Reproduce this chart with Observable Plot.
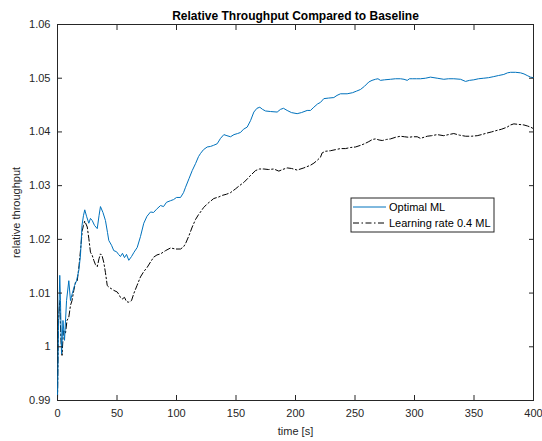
<!DOCTYPE html>
<html>
<head>
<meta charset="utf-8">
<script src="https://cdn.jsdelivr.net/npm/d3@7"></script>
<script src="https://cdn.jsdelivr.net/npm/@observablehq/plot@0.6"></script>
<style>
  body { margin: 0; background: #fff; }
  #chart svg { display: block; }
</style>
</head>
<body>
<div id="chart"></div>
<script>
// Relative throughput of two ML configurations versus the baseline, over time.
const optimalTime = [0, 0.8, 1.9, 2.5, 3.4, 4.6, 5.9, 7.6, 9.5, 10.9, 12.4, 14.3, 16.0, 17.9, 19.3, 20.6, 21.8, 22.9, 24.4, 26.3, 27.7, 29.2, 31.1, 33.4, 34.9, 36.1, 38.2, 40.3, 42.0, 43.1, 45.4, 47.3, 49.6, 51.3, 52.9, 54.6, 56.3, 58.0, 59.9, 62.2, 64.3, 67.0, 69.7, 72.5, 75.2, 78.2, 80.7, 83.2, 86.6, 89.1, 91.6, 95.0, 97.5, 100.0, 103.4, 105.9, 107.6, 110.5, 113.2, 116.0, 118.5, 120.2, 122.7, 125.8, 128.6, 131.1, 134.2, 137.0, 139.8, 142.4, 145.4, 148.3, 151.3, 153.8, 156.3, 159.4, 162.2, 165.0, 167.6, 170.0, 172.3, 174.8, 179.0, 184.6, 187.4, 189.9, 193.0, 196.6, 201.4, 205.0, 209.8, 212.6, 215.4, 218.5, 221.0, 223.8, 227.7, 232.2, 234.9, 237.8, 243.4, 247.9, 251.3, 254.6, 258.0, 261.6, 264.3, 267.2, 269.3, 271.4, 274.8, 279.8, 284.0, 288.2, 291.2, 293.9, 295.8, 298.1, 301.7, 305.0, 309.3, 313.4, 319.1, 324.6, 328.6, 333.0, 338.7, 342.9, 346.2, 349.8, 353.8, 358.2, 362.2, 366.6, 370.6, 375.0, 378.2, 380.7, 384.9, 389.1, 392.0, 394.7, 397.5, 400];
const optimalValue = [0.9900, 1.0030, 1.0133, 1.0086, 0.9987, 1.0049, 1.0012, 1.0086, 1.0123, 1.0086, 1.0099, 1.0114, 1.0123, 1.0142, 1.0170, 1.0226, 1.0244, 1.0255, 1.0243, 1.0230, 1.0239, 1.0235, 1.0226, 1.0220, 1.0244, 1.0261, 1.0250, 1.0235, 1.0213, 1.0198, 1.0189, 1.0179, 1.0177, 1.0172, 1.0168, 1.0174, 1.0166, 1.0172, 1.0161, 1.0168, 1.0176, 1.0185, 1.0205, 1.0230, 1.0243, 1.0251, 1.0250, 1.0256, 1.0263, 1.0261, 1.0269, 1.0272, 1.0274, 1.0278, 1.0278, 1.0287, 1.0297, 1.0313, 1.0328, 1.0341, 1.0354, 1.0360, 1.0367, 1.0372, 1.0373, 1.0375, 1.0378, 1.0388, 1.0395, 1.0393, 1.0391, 1.0395, 1.0397, 1.0399, 1.0405, 1.0409, 1.0421, 1.0437, 1.0444, 1.0446, 1.0442, 1.0439, 1.0438, 1.0437, 1.0442, 1.0444, 1.0440, 1.0436, 1.0434, 1.0436, 1.0440, 1.0440, 1.0446, 1.0452, 1.0455, 1.0462, 1.0463, 1.0464, 1.0468, 1.0471, 1.0471, 1.0473, 1.0476, 1.0479, 1.0485, 1.0493, 1.0496, 1.0498, 1.0499, 1.0496, 1.0497, 1.0498, 1.0499, 1.0499, 1.0498, 1.0496, 1.0499, 1.0499, 1.0499, 1.0499, 1.0500, 1.0502, 1.0500, 1.0498, 1.0499, 1.0499, 1.0498, 1.0494, 1.0496, 1.0497, 1.0499, 1.0500, 1.0501, 1.0503, 1.0505, 1.0507, 1.0510, 1.0511, 1.0511, 1.0510, 1.0508, 1.0505, 1.0502, 1.0501];

const lr04Time = [0, 0.8, 1.9, 2.9, 3.8, 5.0, 6.7, 8.0, 9.5, 10.9, 12.2, 13.7, 15.1, 16.6, 18.1, 19.3, 20.8, 21.8, 22.9, 25.0, 26.3, 27.7, 29.2, 30.5, 31.9, 33.4, 34.9, 36.1, 37.4, 38.9, 40.3, 41.8, 43.7, 45.4, 47.3, 50.2, 51.7, 52.9, 54.4, 56.3, 58.0, 59.9, 62.2, 64.1, 66.8, 69.7, 72.5, 75.4, 78.2, 80.9, 83.6, 86.6, 90.8, 95.0, 99.2, 103.4, 105.9, 107.6, 110.5, 113.2, 116.0, 118.5, 120.2, 122.7, 125.8, 128.6, 131.3, 135.6, 138.7, 142.0, 145.4, 149.6, 152.9, 156.6, 159.7, 162.2, 166.4, 169.7, 173.4, 177.3, 181.8, 186.0, 189.1, 193.0, 196.6, 201.4, 207.0, 212.6, 215.5, 218.2, 221.0, 222.4, 225.2, 229.4, 233.6, 237.8, 242.0, 246.2, 250.4, 254.6, 258.0, 261.6, 264.7, 267.2, 270.2, 272.9, 276.5, 279.8, 284.0, 288.2, 291.6, 295.2, 298.3, 302.3, 305.0, 310.7, 314.3, 319.1, 324.6, 328.6, 333.0, 337.8, 342.9, 347.9, 352.7, 356.3, 361.1, 364.7, 369.5, 373.1, 377.9, 380.7, 383.5, 387.4, 391.9, 395.0, 397.5, 400];
const lr04Value = [0.9900, 1.0049, 1.0086, 1.0012, 0.9984, 1.0030, 1.0025, 1.0049, 1.0055, 1.0077, 1.0086, 1.0105, 1.0120, 1.0123, 1.0151, 1.0179, 1.0216, 1.0226, 1.0234, 1.0223, 1.0202, 1.0176, 1.0170, 1.0161, 1.0153, 1.0149, 1.0164, 1.0173, 1.0170, 1.0157, 1.0138, 1.0114, 1.0110, 1.0108, 1.0105, 1.0102, 1.0097, 1.0092, 1.0089, 1.0092, 1.0084, 1.0083, 1.0086, 1.0099, 1.0114, 1.0130, 1.0140, 1.0148, 1.0158, 1.0167, 1.0171, 1.0173, 1.0179, 1.0184, 1.0182, 1.0182, 1.0186, 1.0192, 1.0207, 1.0223, 1.0237, 1.0246, 1.0251, 1.0259, 1.0266, 1.0271, 1.0276, 1.0279, 1.0282, 1.0284, 1.0287, 1.0294, 1.0300, 1.0306, 1.0313, 1.0319, 1.0328, 1.0331, 1.0331, 1.0330, 1.0331, 1.0327, 1.0330, 1.0333, 1.0332, 1.0329, 1.0333, 1.0338, 1.0342, 1.0347, 1.0353, 1.0361, 1.0364, 1.0365, 1.0367, 1.0369, 1.0369, 1.0371, 1.0372, 1.0375, 1.0378, 1.0382, 1.0386, 1.0387, 1.0385, 1.0384, 1.0386, 1.0387, 1.0390, 1.0392, 1.0391, 1.0390, 1.0391, 1.0391, 1.0388, 1.0392, 1.0393, 1.0395, 1.0393, 1.0395, 1.0397, 1.0394, 1.0392, 1.0392, 1.0393, 1.0395, 1.0398, 1.0400, 1.0403, 1.0405, 1.0409, 1.0413, 1.0415, 1.0414, 1.0413, 1.0411, 1.0409, 1.0406];

const xTicks = [0, 50, 100, 150, 200, 250, 300, 350, 400];
const yTicks = [0.99, 1.00, 1.01, 1.02, 1.03, 1.04, 1.05, 1.06];
const seriesNames = ["Optimal ML", "Learning rate 0.4 ML"];
const titleText = "Relative Throughput Compared to Baseline";
const xLabel = "time [s]";
const yLabel = "relative throughput";

const blue = "#0072BD";
const ink = "#262626";
const dashDot = "6,2.5,1.5,2.5";

const optimal = optimalTime.map((t, i) => ({t, v: optimalValue[i]}));
const lr04 = lr04Time.map((t, i) => ({t, v: lr04Value[i]}));
const yFormat = d3.format("~g");

const chart = Plot.plot({
  width: 542,
  height: 441,
  marginLeft: 57,
  marginRight: 9,
  marginTop: 24,
  marginBottom: 41,
  style: {fontFamily: "'Liberation Sans', Arial, sans-serif", fontSize: "11px", color: ink, background: "#fff"},
  x: {domain: [0, 400]},
  y: {domain: [0.99, 1.06]},
  marks: [
    Plot.frame({stroke: ink, strokeWidth: 1}),
    Plot.line(lr04, {x: "t", y: "v", stroke: "#000", strokeWidth: 1, strokeDasharray: dashDot}),
    Plot.line(optimal, {x: "t", y: "v", stroke: blue, strokeWidth: 1}),
    Plot.axisX(xTicks, {anchor: "bottom", tickSize: -5, tickPadding: 14, stroke: ink, fill: ink,
      label: xLabel, labelAnchor: "center", labelArrow: "none", labelOffset: 34}),
    Plot.axisX(xTicks, {anchor: "top", tickSize: -5, stroke: ink, tickFormat: () => "", label: null}),
    Plot.axisY(yTicks, {anchor: "left", tickSize: -5, tickPadding: 12, stroke: ink, fill: ink, tickFormat: yFormat,
      label: yLabel, labelAnchor: "center", labelArrow: "none", labelOffset: 45}),
    Plot.axisY(yTicks, {anchor: "right", tickSize: -5, stroke: ink, tickFormat: () => "", label: null}),
    Plot.text([titleText], {frameAnchor: "top", lineAnchor: "bottom", dy: -5, fontWeight: "bold", fontSize: 12, fill: "#000"})
  ]
});

document.getElementById("chart").append(chart);

// Legend box in the lower right part of the axes
const svg = d3.select(chart.tagName === "svg" ? chart : chart.querySelector("svg"));
const lg = svg.append("g").attr("transform", "translate(351,198)")
  .style("font-family", "'Liberation Sans', Arial, sans-serif").style("font-size", "11px");
lg.append("rect").attr("width", 143).attr("height", 34).attr("fill", "#fff").attr("stroke", ink).attr("stroke-width", 1);
const rows = [{name: seriesNames[0], stroke: blue, dash: null}, {name: seriesNames[1], stroke: "#000", dash: dashDot}];
rows.forEach((r, i) => {
  const cy = 9 + i * 16;
  lg.append("line").attr("x1", 2).attr("x2", 35).attr("y1", cy).attr("y2", cy)
    .attr("stroke", r.stroke).attr("stroke-width", 1).attr("stroke-dasharray", r.dash);
  lg.append("text").attr("x", 38).attr("y", cy).attr("dy", "0.35em")
    .attr("text-anchor", "start").attr("fill", "#000").text(r.name);
});
</script>
</body>
</html>
